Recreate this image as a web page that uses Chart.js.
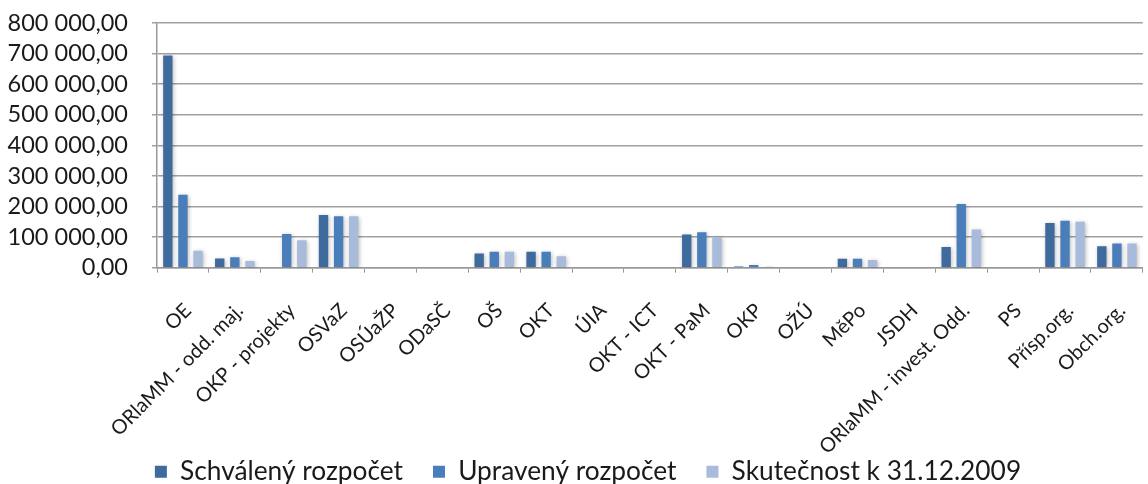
<!DOCTYPE html>
<html>
<head>
<meta charset="utf-8">
<script src="https://cdn.jsdelivr.net/npm/chart.js@4"></script>
<style>
  html, body { margin: 0; padding: 0; background: #fff; overflow: hidden; }
  #wrap { width: 1160px; height: 484px; }
</style>
</head>
<body>
<div id="wrap"><canvas id="graf" width="1160" height="484"></canvas></div>
<script>
const odbory = ["OE", "ORlaMM - odd. maj.", "OKP - projekty", "OSVaZ", "OSÚaŽP", "ODaSČ", "OŠ", "OKT", "ÚIA",
  "OKT - ICT", "OKT - PaM", "OKP", "OŽÚ", "MěPo", "JSDH", "ORlaMM - invest. Odd.", "PS", "Přísp.org.", "Obch.org."];

const schvaleny = [693700, 30200, 0, 172400, 0, 0, 46500, 52000, 0, 0, 108300, 4300, 0, 29300, 0, 67300, 0, 146300, 70500];
const upraveny = [238500, 34500, 110500, 167800, 0, 0, 52000, 52000, 0, 0, 116000, 8700, 0, 29300, 0, 208000, 0, 153900, 79000];
const skutecnost = [55300, 21500, 89800, 167800, 0, 0, 52000, 37700, 0, 0, 99800, 3300, 0, 25000, 0, 124600, 0, 150600, 79000];

const nazvyRad = ["Schválený rozpočet", "Upravený rozpočet", "Skutečnost k 31.12.2009"];
const barvy = ["#3E6A9D", "#4A7EBB", "#A9BBDB"];

// 800 000,00 style
const formatCislo = (v) => {
  const cele = Math.round(v).toString().replace(/\B(?=(\d{3})+(?!\d))/g, " ");
  return cele + ",00";
};

const stin = {
  id: "stin",
  beforeDatasetsDraw(chart) {
    const c = chart.ctx;
    c.save();
    c.shadowColor = "rgba(0,0,0,0.28)";
    c.shadowBlur = 4;
    c.shadowOffsetX = 1;
    c.shadowOffsetY = 1;
  },
  afterDatasetsDraw(chart) {
    chart.ctx.restore();
  }
};

// labels run past their axis boxes, don't clip them
const bezOrezu = {
  id: "bezOrezu",
  beforeDraw(chart) {
    chart.scales.x._computeLabelArea = () => undefined;
    chart.scales.y._computeLabelArea = () => undefined;
  }
};

Chart.defaults.font.family = "Lato, 'Open Sans', sans-serif";
Chart.defaults.color = "#1a1a1a";

const rady = [schvaleny, upraveny, skutecnost].map((data, i) => ({
  label: nazvyRad[i],
  data: data,
  backgroundColor: barvy[i],
  borderWidth: 0,
  categoryPercentage: 0.873,
  barPercentage: 0.62
}));

new Chart(document.getElementById("graf"), {
  type: "bar",
  data: { labels: odbory, datasets: rady },
  plugins: [stin, bezOrezu],
  options: {
    responsive: false,
    animation: false,
    layout: { padding: { top: 23, right: 4, left: 20, bottom: -11 } },
    plugins: {
      tooltip: { enabled: false },
      legend: {
        position: "bottom",
        labels: {
          boxWidth: 12,
          boxHeight: 12,
          padding: 30,
          font: { size: 26.3 },
          color: "#1a1a1a"
        }
      }
    },
    scales: {
      x: {
        afterFit: (s) => { s.height = 161; },
        grid: { drawOnChartArea: false, tickLength: 5, color: "#999", offset: true },
        border: { color: "#999", width: 1.5 },
        ticks: {
          autoSkip: false,
          minRotation: 45,
          maxRotation: 45,
          padding: 26,
          labelOffset: 5,
          font: { size: 20 },
          color: "#1a1a1a"
        }
      },
      y: {
        min: 0,
        max: 800000,
        afterFit: (s) => {
          s.width = 137;
          s.paddingTop = 0;
          s.paddingBottom = 0;
        },
        grid: { color: "#a0a0a0", lineWidth: 1.5, tickLength: 5 },
        border: { color: "#999", width: 1.5 },
        ticks: {
          stepSize: 100000,
          autoSkip: false,
          padding: 24,
          font: { size: 23.5 },
          color: "#1a1a1a",
          callback: (v) => formatCislo(v)
        }
      }
    }
  }
});
</script>
</body>
</html>
